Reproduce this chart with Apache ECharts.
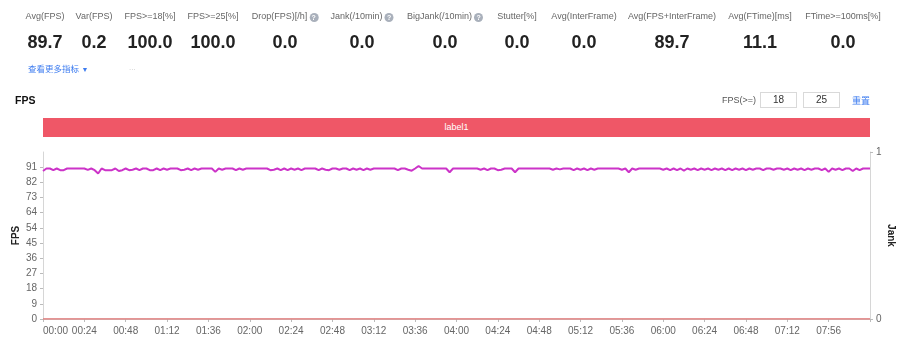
<!DOCTYPE html>
<html>
<head>
<meta charset="utf-8">
<script src="https://cdn.jsdelivr.net/npm/echarts@6/dist/echarts.min.js"></script>
<style>
html,body{margin:0;padding:0;background:#fff;width:900px;height:340px;overflow:hidden;font-family:"Liberation Sans",Arial,"Noto Sans CJK SC",sans-serif;}
#chart{position:absolute;left:0;top:0;width:900px;height:340px;}
.col{position:absolute;transform:translateX(-50%);white-space:nowrap;text-align:center;}
.lab{top:10px;font-size:9px;color:#666;line-height:12px;}
.val{top:31px;font-size:18px;font-weight:bold;color:#222;line-height:22px;}
.q{display:inline-block;width:9px;height:9px;border-radius:50%;background:#a9b0bb;color:#fff;font-size:7px;line-height:9px;text-align:center;vertical-align:-1px;margin-left:2px;font-weight:bold;}
.abs{position:absolute;white-space:nowrap;}
.box{position:absolute;top:92px;height:14px;border:1px solid #d9d9d9;font-size:10px;color:#333;text-align:center;line-height:14px;box-sizing:content-box;}
</style>
</head>
<body>
<div id="chart"></div>
<div id="hdr"></div>
<div class="abs" style="left:28px;top:62px;font-size:8.5px;color:#3d7cf0;">查看更多指标 <span style="font-size:7px;">▼</span></div>
<div class="abs" style="left:129px;top:63px;font-size:8px;color:#c8c8c8;">...</div>
<div class="abs" style="left:15px;top:94px;font-size:10.5px;font-weight:bold;color:#111;">FPS</div>
<div class="abs" style="left:722px;top:95px;font-size:9px;color:#555;">FPS(&gt;=)</div>
<div class="box" id="b1" style="left:760px;width:35px;"></div>
<div class="box" id="b2" style="left:803px;width:35px;"></div>
<div class="abs" style="left:852px;top:94px;font-size:9px;color:#3d7cf0;">重置</div>
<div class="abs" style="left:43px;top:118px;width:827px;height:19px;background:#ef5767;color:#fff;font-size:9px;line-height:19px;text-align:center;">label1</div>
<script>
// header metrics
const metricNames = ['Avg(FPS)','Var(FPS)','FPS>=18[%]','FPS>=25[%]','Drop(FPS)[/h]','Jank(/10min)','BigJank(/10min)','Stutter[%]','Avg(InterFrame)','Avg(FPS+InterFrame)','Avg(FTime)[ms]','FTime>=100ms[%]'];
const metricValues = ['89.7','0.2','100.0','100.0','0.0','0.0','0.0','0.0','0.0','89.7','11.1','0.0'];
const metricHelp = [false,false,false,false,true,true,true,false,false,false,false,false];
const fpsThresholds = ['18','25'];

// x axis tick labels (every 24 s)
const tickLabels = ['00:00','00:24','00:48','01:12','01:36','02:00','02:24','02:48','03:12','03:36','04:00','04:24','04:48','05:12','05:36','06:00','06:24','06:48','07:12','07:56'];

// FPS sampled every 2 s (241 samples, 0..480 s)
const fps = [
88.5,90,90,89,90,89,89,90,90,90,90,90,90,89.2,90,89,87,90,89,89,
89,90,88.5,89,90,89,89.3,90,89,90,90,89,89,90,89,90,89.3,90,90,90,
89,89.3,90,89,90,89.3,90,90,90,90,88,90,89.3,90,90,90,89,90,89.3,90,
90,90,90,90,90,90,89,89.3,90,89,90,89,90,89.3,90,89,90,90,90,90,
89,90,89.3,89,90,90,89.3,90,90,89,90,89.3,90,89,90,89.3,90,90,90,90,
90,90,90,89,90,90,89.3,88.7,90,91.5,90,90,90,90,90,90,90,90,87.8,90,
90,90,90,90,90,90,90,89.3,90,89,90,90,89,89.3,90,90,90,87.8,90,90,
90,90,90,90,90,90,90,90,89.3,90,89.5,90,90,90,89,90,89.3,90,89,90,
89.3,90,90,90,90,90,90,90,89.3,90,87.8,90,89.3,90,90,90,90,90,90,90,
89.3,90,89,90,89,90,88.7,90,89.3,90,89,90,89.3,90,89,90,89.3,90,89,90,
89,90,89.3,90,89,90,89.3,90,90,89,90,90,89.3,90,90,89.3,90,89,90,89.3,
90,89,90,89.3,90,90,89,90,88,90,89.3,90,89,90,90,88.5,90,89,90,90,
90
];
// Jank and BigJank per minute (all zero)
const jankPerMin = [0,0,0,0,0,0,0,0,0];
const bigJankPerMin = [0,0,0,0,0,0,0,0,0];

// build header
const centers = [45,94,150,213,285,362,445,517,584,672,760,843];
const hdr = document.getElementById('hdr');
metricNames.forEach((n,i)=>{
  const l = document.createElement('div');
  l.className='col lab'; l.style.left=centers[i]+'px';
  l.textContent=n;
  if(metricHelp[i]){const q=document.createElement('span');q.className='q';q.textContent='?';l.appendChild(q);}
  hdr.appendChild(l);
  const v = document.createElement('div');
  v.className='col val'; v.style.left=centers[i]+'px';
  v.textContent=metricValues[i];
  hdr.appendChild(v);
});
document.getElementById('b1').textContent=fpsThresholds[0];
document.getElementById('b2').textContent=fpsThresholds[1];

const cats = fps.map((_,i)=>String(i));
const step = 12; // categories per tick label
const chart = echarts.init(document.getElementById('chart'), null, {renderer:'canvas'});
chart.setOption({
  animation:false,
  grid:{left:43,right:30,top:152,bottom:21,containLabel:false,outerBoundsMode:'none'},
  xAxis:{
    type:'category', data:cats, boundaryGap:false,
    axisLine:{lineStyle:{color:'#cfcfcf'}},
    axisTick:{interval:step-1,length:3,lineStyle:{color:'#bbb'}},
    axisLabel:{interval:step-1,color:'#666',fontSize:10,margin:7,alignMinLabel:'left',
      formatter:(v,idx)=> (idx%step===0 && tickLabels[idx/step]!==undefined)? tickLabels[idx/step] : ''},
    splitLine:{show:false}
  },
  yAxis:[{
    type:'value', min:0, max:99.88, interval:9.08,
    name:'FPS', nameLocation:'middle', nameGap:22, nameRotate:90, nameMoveOverlap:false,
    nameTextStyle:{color:'#222',fontSize:10,fontWeight:'bold'},
    axisLine:{show:true,lineStyle:{color:'#d6d6d6'}},
    axisTick:{show:true,length:3,lineStyle:{color:'#bbb'}},
    axisLabel:{color:'#666',fontSize:10,margin:6,showMaxLabel:false,formatter:v=>String(Math.round(v))},
    splitLine:{show:false}
  },{
    type:'value', min:0, max:1, interval:1, position:'right',
    name:'Jank', nameLocation:'middle', nameGap:16, nameRotate:-90, nameMoveOverlap:false,
    nameTextStyle:{color:'#222',fontSize:10,fontWeight:'bold'},
    axisLine:{show:true,lineStyle:{color:'#d6d6d6'}},
    axisTick:{show:true,length:3,lineStyle:{color:'#bbb'}},
    axisLabel:{color:'#666',fontSize:10,margin:6},
    splitLine:{show:false}
  }],
  series:[
    {name:'BigJank',type:'line',yAxisIndex:1,data:bigJankPerMin.map((v,i)=>[i*30,v]),showSymbol:false,
      lineStyle:{color:'#7fcfa8',width:1},itemStyle:{color:'#7fcfa8'},z:1},
    {name:'Jank',type:'line',yAxisIndex:1,data:jankPerMin.map((v,i)=>[i*30,v]),showSymbol:false,
      lineStyle:{color:'#f2797f',width:1.5},itemStyle:{color:'#f2797f'},z:2},
    {name:'FPS',type:'line',yAxisIndex:0,data:fps,showSymbol:false,
      lineStyle:{color:'#cc33c8',width:2},itemStyle:{color:'#cc33c8'},z:3}
  ]
});
</script>
</body>
</html>
